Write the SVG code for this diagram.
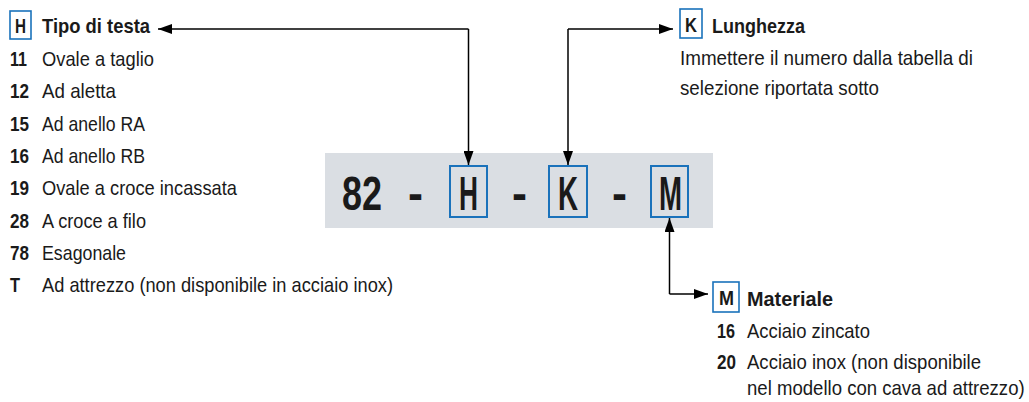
<svg xmlns="http://www.w3.org/2000/svg" width="1029" height="402" viewBox="0 0 1029 402">
<style>
text{font-family:"Liberation Sans",Arial,sans-serif;fill:#1a1a1a}
.t{font-size:21px}
.b{font-size:21px;font-weight:bold}
.big{font-size:48px;font-weight:bold}
.box{fill:none;stroke:#1a72bb;stroke-width:2}
.sbox{fill:#fff;stroke:#1a72bb;stroke-width:1.6}
.c{fill:none;stroke:#000;stroke-width:1.5}
</style>
<defs>
<marker id="ah" markerWidth="14" markerHeight="10" refX="14" refY="5" orient="auto" markerUnits="userSpaceOnUse">
<path d="M0,0 L14,5 L0,10 Z" fill="#000"/>
</marker>
</defs>
<g id="code">
<rect x="325" y="153" width="388" height="75" fill="#dadee3"/>
<text class="big" x="342" y="210" textLength="40" lengthAdjust="spacingAndGlyphs">82</text>
<text class="big" x="408" y="210" textLength="15" lengthAdjust="spacingAndGlyphs">-</text>
<rect class="box" x="450" y="166" width="37" height="51"/>
<text class="big" x="459" y="210" textLength="19" lengthAdjust="spacingAndGlyphs">H</text>
<text class="big" x="512" y="210" textLength="15" lengthAdjust="spacingAndGlyphs">-</text>
<rect class="box" x="549" y="166" width="38" height="51"/>
<text class="big" x="558" y="210" textLength="20" lengthAdjust="spacingAndGlyphs">K</text>
<text class="big" x="612" y="210" textLength="15" lengthAdjust="spacingAndGlyphs">-</text>
<rect class="box" x="651" y="166" width="37" height="51"/>
<text class="big" x="659" y="210" textLength="23" lengthAdjust="spacingAndGlyphs">M</text>
</g>
<g id="head-type">
<rect class="sbox" x="10" y="11" width="21" height="28"/>
<text class="b" x="15" y="33" textLength="11" lengthAdjust="spacingAndGlyphs">H</text>
<text class="b" x="42" y="33" textLength="108" lengthAdjust="spacingAndGlyphs">Tipo di testa</text>
<text class="b" x="10" y="66" textLength="17" lengthAdjust="spacingAndGlyphs">11</text><text class="t" x="42" y="66" textLength="112" lengthAdjust="spacingAndGlyphs">Ovale a taglio</text>
<text class="b" x="10" y="98" textLength="19" lengthAdjust="spacingAndGlyphs">12</text><text class="t" x="42" y="98" textLength="74" lengthAdjust="spacingAndGlyphs">Ad aletta</text>
<text class="b" x="10" y="130.5" textLength="19" lengthAdjust="spacingAndGlyphs">15</text><text class="t" x="42" y="130.5" textLength="103" lengthAdjust="spacingAndGlyphs">Ad anello RA</text>
<text class="b" x="10" y="163" textLength="19" lengthAdjust="spacingAndGlyphs">16</text><text class="t" x="42" y="163" textLength="103" lengthAdjust="spacingAndGlyphs">Ad anello RB</text>
<text class="b" x="10" y="195" textLength="19" lengthAdjust="spacingAndGlyphs">19</text><text class="t" x="42" y="195" textLength="195" lengthAdjust="spacingAndGlyphs">Ovale a croce incassata</text>
<text class="b" x="10" y="227.5" textLength="19" lengthAdjust="spacingAndGlyphs">28</text><text class="t" x="42" y="227.5" textLength="104" lengthAdjust="spacingAndGlyphs">A croce a filo</text>
<text class="b" x="10" y="259.5" textLength="19" lengthAdjust="spacingAndGlyphs">78</text><text class="t" x="42" y="259.5" textLength="84" lengthAdjust="spacingAndGlyphs">Esagonale</text>
<text class="b" x="10" y="292" textLength="10" lengthAdjust="spacingAndGlyphs">T</text><text class="t" x="42" y="292" textLength="351" lengthAdjust="spacingAndGlyphs">Ad attrezzo (non disponibile in acciaio inox)</text>
</g>
<g id="length">
<rect class="sbox" x="680" y="9" width="22" height="29"/>
<text class="b" x="685" y="32" textLength="12" lengthAdjust="spacingAndGlyphs">K</text>
<text class="b" x="712" y="33" textLength="93" lengthAdjust="spacingAndGlyphs">Lunghezza</text>
<text class="t" x="680" y="65" textLength="293" lengthAdjust="spacingAndGlyphs">Immettere il numero dalla tabella di</text>
<text class="t" x="680" y="95" textLength="199" lengthAdjust="spacingAndGlyphs">selezione riportata sotto</text>
</g>
<g id="material">
<rect class="sbox" x="713" y="282" width="26" height="30"/>
<text class="b" x="719" y="305" textLength="15" lengthAdjust="spacingAndGlyphs">M</text>
<text class="b" x="747" y="306" textLength="86" lengthAdjust="spacingAndGlyphs">Materiale</text>
<text class="b" x="717" y="338" textLength="18" lengthAdjust="spacingAndGlyphs">16</text><text class="t" x="747" y="338" textLength="123" lengthAdjust="spacingAndGlyphs">Acciaio zincato</text>
<text class="b" x="717" y="369" textLength="19" lengthAdjust="spacingAndGlyphs">20</text><text class="t" x="747" y="369" textLength="234" lengthAdjust="spacingAndGlyphs">Acciaio inox (non disponibile</text>
<text class="t" transform="translate(747,395) scale(0.885,1)">nel modello con cava ad attrezzo)</text>
</g>
<g id="connectors">
<path class="c" d="M468.5,29 L158,29" marker-end="url(#ah)"/>
<path class="c" d="M468.5,29 L468.5,165" marker-end="url(#ah)"/>
<path class="c" d="M568,29 L673,29" marker-end="url(#ah)"/>
<path class="c" d="M568,29 L568,165" marker-end="url(#ah)"/>
<path class="c" d="M669.5,294 L669.5,218" marker-end="url(#ah)"/>
<path class="c" d="M669.5,294 L708,294" marker-end="url(#ah)"/>
</g>
</svg>
